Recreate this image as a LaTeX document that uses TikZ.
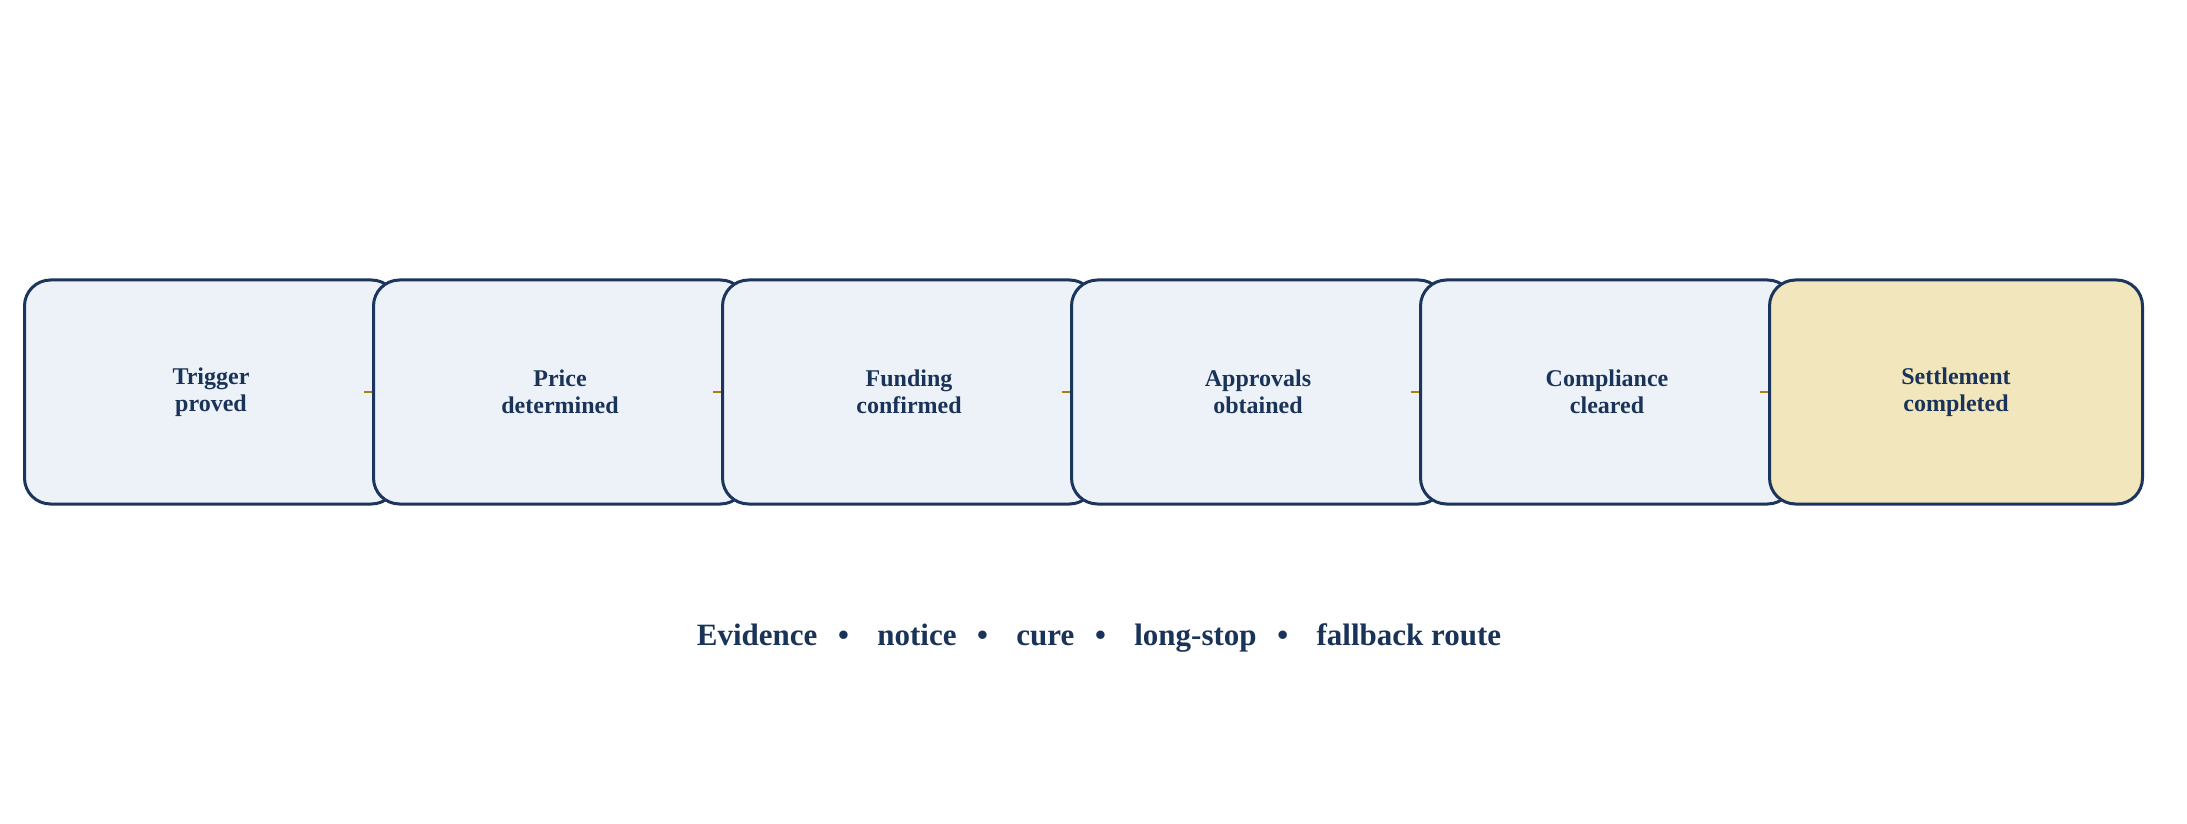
\documentclass[tikz,border=0pt]{standalone}
\usepackage{fontspec}
\setmainfont{Liberation Serif}
\begin{document}
\begin{tikzpicture}[x=1pt,y=1pt,
  box/.style={draw=navy,line width=3pt,fill=boxfill,rounded corners=26pt,minimum width=373pt,minimum height=224pt,align=center,text=navytext,font=\fontsize{24}{27}\selectfont\bfseries,inner sep=0pt},
  last/.style={box,fill=goldfill},
  conn/.style={draw=goldline,line width=2.6pt}]
\definecolor{navy}{HTML}{1C355C}
\definecolor{navytext}{HTML}{1A3358}
\definecolor{boxfill}{HTML}{EDF2F9}
\definecolor{goldfill}{HTML}{F2E6BC}
\definecolor{goldline}{HTML}{A87F10}
\useasboundingbox[fill=white] (0,0) rectangle (2187,823);
\node[box] (b1) at (211,431) {Trigger\\proved};
\node[box] (b2) at (560,431) {Price\\determined};
\draw[conn] ([xshift=-8pt]b2.west) -- (b2.west);
\node[box] (b3) at (909,431) {Funding\\confirmed};
\draw[conn] ([xshift=-8pt]b3.west) -- (b3.west);
\node[box] (b4) at (1258,431) {Approvals\\obtained};
\draw[conn] ([xshift=-8pt]b4.west) -- (b4.west);
\node[box] (b5) at (1607,431) {Compliance\\cleared};
\draw[conn] ([xshift=-8pt]b5.west) -- (b5.west);
\node[last] (b6) at (1956,431) {Settlement\\completed};
\draw[conn] ([xshift=-8pt]b6.west) -- (b6.west);
\node[text=navytext,font=\fontsize{31}{35}\selectfont\bfseries] (foot) at (1099,185) {Evidence\enspace\,•\enspace\, notice\enspace\,•\enspace\, cure\enspace\,•\enspace\, long-stop\enspace\,•\enspace\, fallback route};
\end{tikzpicture}
\end{document}
